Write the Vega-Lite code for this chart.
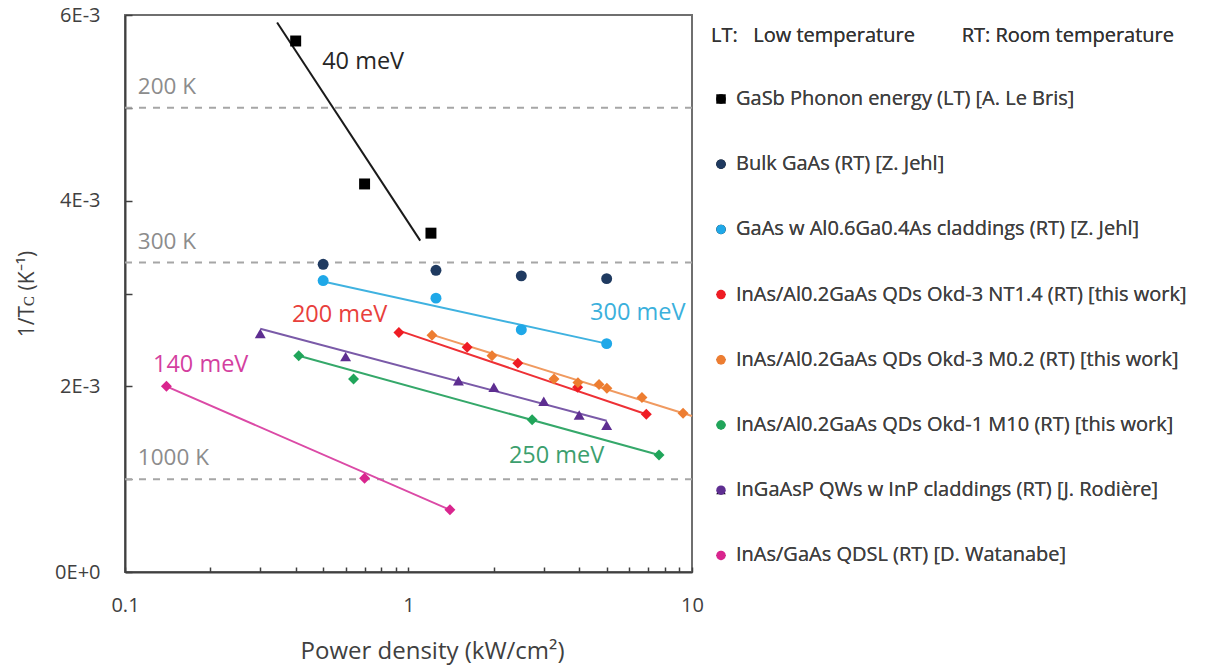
{
  "$schema": "https://vega.github.io/schema/vega-lite/v6.json",
  "width": 567,
  "height": 557,
  "autosize": {"type": "none"},
  "padding": {"left": 125, "top": 15, "right": 535, "bottom": 99},
  "background": "white",
  "config": {
    "font": "Open Sans",
    "view": {"stroke": "#6f6f6f", "strokeWidth": 2},
    "axis": {"grid": false, "domainColor": "#404040", "domainWidth": 2, "tickColor": "#404040", "tickWidth": 1.5, "labelColor": "#404040", "labelFontSize": 20, "titleColor": "#404040", "titleFontWeight": "normal", "labelOverlap": false, "labelFlush": false}
  },
  "datasets": {
    "refs": [
      {"y": 0.005, "label": "200 K"},
      {"y": 0.0033333, "label": "300 K"},
      {"y": 0.001, "label": "1000 K"}
    ],
    "notes": [
      {"text": "40 meV", "x": 0.496, "y": 0.00549},
      {"text": "200 meV", "x": 0.388, "y": 0.00277},
      {"text": "300 meV", "x": 4.37, "y": 0.00279},
      {"text": "140 meV", "x": 0.1255, "y": 0.00223},
      {"text": "250 meV", "x": 2.26, "y": 0.001245}
    ],
    "fits": [
      {"series": "GaSb Phonon energy (LT) [A. Le Bris]", "x": 0.344, "y": 0.00592},
      {"series": "GaSb Phonon energy (LT) [A. Le Bris]", "x": 1.10, "y": 0.00357},
      {"series": "GaAs w Al0.6Ga0.4As claddings (RT) [Z. Jehl]", "x": 0.5, "y": 0.00313},
      {"series": "GaAs w Al0.6Ga0.4As claddings (RT) [Z. Jehl]", "x": 5, "y": 0.00246},
      {"series": "InAs/Al0.2GaAs QDs Okd-3 NT1.4 (RT) [this work]", "x": 0.925, "y": 0.00260},
      {"series": "InAs/Al0.2GaAs QDs Okd-3 NT1.4 (RT) [this work]", "x": 6.9, "y": 0.00170},
      {"series": "InAs/Al0.2GaAs QDs Okd-3 M0.2 (RT) [this work]", "x": 1.2, "y": 0.00256},
      {"series": "InAs/Al0.2GaAs QDs Okd-3 M0.2 (RT) [this work]", "x": 10, "y": 0.00168},
      {"series": "InAs/Al0.2GaAs QDs Okd-1 M10 (RT) [this work]", "x": 0.41, "y": 0.00233},
      {"series": "InAs/Al0.2GaAs QDs Okd-1 M10 (RT) [this work]", "x": 7.65, "y": 0.00126},
      {"series": "InGaAsP QWs w InP claddings (RT) [J. Rodière]", "x": 0.3, "y": 0.00262},
      {"series": "InGaAsP QWs w InP claddings (RT) [J. Rodière]", "x": 5, "y": 0.00163},
      {"series": "InAs/GaAs QDSL (RT) [D. Watanabe]", "x": 0.14, "y": 0.00200},
      {"series": "InAs/GaAs QDSL (RT) [D. Watanabe]", "x": 1.4, "y": 0.00067}
    ],
    "pts": [
      {"series": "GaSb Phonon energy (LT) [A. Le Bris]", "x": 0.4, "y": 0.00572},
      {"series": "GaSb Phonon energy (LT) [A. Le Bris]", "x": 0.7, "y": 0.00418},
      {"series": "GaSb Phonon energy (LT) [A. Le Bris]", "x": 1.2, "y": 0.00365},
      {"series": "Bulk GaAs (RT) [Z. Jehl]", "x": 0.5, "y": 0.003315},
      {"series": "Bulk GaAs (RT) [Z. Jehl]", "x": 1.25, "y": 0.00325},
      {"series": "Bulk GaAs (RT) [Z. Jehl]", "x": 2.5, "y": 0.00319},
      {"series": "Bulk GaAs (RT) [Z. Jehl]", "x": 5, "y": 0.00316},
      {"series": "GaAs w Al0.6Ga0.4As claddings (RT) [Z. Jehl]", "x": 0.5, "y": 0.00314},
      {"series": "GaAs w Al0.6Ga0.4As claddings (RT) [Z. Jehl]", "x": 1.25, "y": 0.00295},
      {"series": "GaAs w Al0.6Ga0.4As claddings (RT) [Z. Jehl]", "x": 2.5, "y": 0.00261},
      {"series": "GaAs w Al0.6Ga0.4As claddings (RT) [Z. Jehl]", "x": 5, "y": 0.00246},
      {"series": "InAs/Al0.2GaAs QDs Okd-3 NT1.4 (RT) [this work]", "x": 0.925, "y": 0.00258},
      {"series": "InAs/Al0.2GaAs QDs Okd-3 NT1.4 (RT) [this work]", "x": 1.61, "y": 0.00242},
      {"series": "InAs/Al0.2GaAs QDs Okd-3 NT1.4 (RT) [this work]", "x": 2.43, "y": 0.00225},
      {"series": "InAs/Al0.2GaAs QDs Okd-3 NT1.4 (RT) [this work]", "x": 3.95, "y": 0.00199},
      {"series": "InAs/Al0.2GaAs QDs Okd-3 NT1.4 (RT) [this work]", "x": 6.9, "y": 0.00170},
      {"series": "InAs/Al0.2GaAs QDs Okd-3 M0.2 (RT) [this work]", "x": 1.21, "y": 0.00255},
      {"series": "InAs/Al0.2GaAs QDs Okd-3 M0.2 (RT) [this work]", "x": 1.97, "y": 0.00233},
      {"series": "InAs/Al0.2GaAs QDs Okd-3 M0.2 (RT) [this work]", "x": 3.26, "y": 0.00208},
      {"series": "InAs/Al0.2GaAs QDs Okd-3 M0.2 (RT) [this work]", "x": 3.96, "y": 0.00204},
      {"series": "InAs/Al0.2GaAs QDs Okd-3 M0.2 (RT) [this work]", "x": 4.7, "y": 0.00202},
      {"series": "InAs/Al0.2GaAs QDs Okd-3 M0.2 (RT) [this work]", "x": 5.01, "y": 0.00198},
      {"series": "InAs/Al0.2GaAs QDs Okd-3 M0.2 (RT) [this work]", "x": 6.66, "y": 0.00188},
      {"series": "InAs/Al0.2GaAs QDs Okd-3 M0.2 (RT) [this work]", "x": 9.3, "y": 0.00171},
      {"series": "InAs/Al0.2GaAs QDs Okd-1 M10 (RT) [this work]", "x": 0.41, "y": 0.00233},
      {"series": "InAs/Al0.2GaAs QDs Okd-1 M10 (RT) [this work]", "x": 0.64, "y": 0.00208},
      {"series": "InAs/Al0.2GaAs QDs Okd-1 M10 (RT) [this work]", "x": 2.73, "y": 0.00164},
      {"series": "InAs/Al0.2GaAs QDs Okd-1 M10 (RT) [this work]", "x": 7.65, "y": 0.00126},
      {"series": "InGaAsP QWs w InP claddings (RT) [J. Rodière]", "x": 0.3, "y": 0.00257},
      {"series": "InGaAsP QWs w InP claddings (RT) [J. Rodière]", "x": 0.6, "y": 0.00232},
      {"series": "InGaAsP QWs w InP claddings (RT) [J. Rodière]", "x": 1.5, "y": 0.00206},
      {"series": "InGaAsP QWs w InP claddings (RT) [J. Rodière]", "x": 2, "y": 0.00199},
      {"series": "InGaAsP QWs w InP claddings (RT) [J. Rodière]", "x": 3, "y": 0.00184},
      {"series": "InGaAsP QWs w InP claddings (RT) [J. Rodière]", "x": 4, "y": 0.00169},
      {"series": "InGaAsP QWs w InP claddings (RT) [J. Rodière]", "x": 5, "y": 0.00158},
      {"series": "InAs/GaAs QDSL (RT) [D. Watanabe]", "x": 0.14, "y": 0.00200},
      {"series": "InAs/GaAs QDSL (RT) [D. Watanabe]", "x": 0.7, "y": 0.00101},
      {"series": "InAs/GaAs QDSL (RT) [D. Watanabe]", "x": 1.4, "y": 0.00067}
    ]
  },
  "layer": [
    {
      "data": {"name": "refs"},
      "mark": {"type": "rule", "color": "#a6a6a6", "strokeWidth": 2, "strokeDash": [7, 7]},
      "encoding": {
        "y": {"field": "y", "type": "quantitative", "scale": {"domain": [0, 0.006], "nice": false, "zero": false}}
      }
    },
    {
      "data": {"name": "refs"},
      "mark": {"type": "text", "align": "left", "baseline": "middle", "dy": -21, "fontSize": 22.5, "color": "#8c8c8c"},
      "encoding": {
        "x": {"datum": 0.111, "type": "quantitative", "scale": {"type": "log", "domain": [0.1, 10], "nice": false}},
        "y": {"field": "y", "type": "quantitative", "scale": {"domain": [0, 0.006], "nice": false, "zero": false}},
        "text": {"field": "label"}
      }
    },
    {
      "data": {"name": "notes"},
      "mark": {"type": "text", "align": "left", "baseline": "middle", "fontSize": 23.5},
      "encoding": {
        "x": {"field": "x", "type": "quantitative", "scale": {"type": "log", "domain": [0.1, 10], "nice": false}},
        "y": {"field": "y", "type": "quantitative", "scale": {"domain": [0, 0.006], "nice": false, "zero": false}},
        "text": {"field": "text"},
        "color": {"field": "text", "type": "nominal", "legend": null,
          "scale": {"domain": ["40 meV", "200 meV", "300 meV", "140 meV", "250 meV"],
                    "range": ["#262626", "#e8403c", "#3bb0dc", "#d43f9f", "#3c9f6e"]}}
      }
    },
    {
      "data": {"name": "fits"},
      "mark": {"type": "line", "strokeWidth": 2},
      "encoding": {
        "x": {"field": "x", "type": "quantitative", "scale": {"type": "log", "domain": [0.1, 10], "nice": false}},
        "y": {"field": "y", "type": "quantitative", "scale": {"domain": [0, 0.006], "nice": false, "zero": false}},
        "detail": {"field": "series"},
        "color": {"field": "series", "type": "nominal", "legend": null,
          "scale": {"domain": ["GaSb Phonon energy (LT) [A. Le Bris]", "GaAs w Al0.6Ga0.4As claddings (RT) [Z. Jehl]", "InAs/Al0.2GaAs QDs Okd-3 NT1.4 (RT) [this work]", "InAs/Al0.2GaAs QDs Okd-3 M0.2 (RT) [this work]", "InAs/Al0.2GaAs QDs Okd-1 M10 (RT) [this work]", "InGaAsP QWs w InP claddings (RT) [J. Rodière]", "InAs/GaAs QDSL (RT) [D. Watanabe]"],
                    "range": ["#1a1a1a", "#3fb2e0", "#ee3035", "#f09a60", "#35a86a", "#7a5aa8", "#db4aa6"]}}
      }
    },
    {
      "data": {"name": "pts"},
      "mark": {"type": "point", "filled": true, "opacity": 1, "size": 120},
      "encoding": {
        "x": {"field": "x", "type": "quantitative",
          "scale": {"type": "log", "domain": [0.1, 10], "nice": false},
          "axis": {"values": [0.1, 0.2, 0.3, 0.4, 0.5, 0.6, 0.7, 0.8, 0.9, 1, 2, 3, 4, 5, 6, 7, 8, 9, 10],
                   "labelExpr": "datum.value == 0.1 ? '0.1' : datum.value == 1 ? '1' : datum.value == 10 ? '10' : ''",
                   "tickSize": -5, "labelPadding": 28,
                   "title": "Power density (kW/cm²)", "titleFontSize": 24, "titleX": 307, "titleY": 67}},
        "y": {"field": "y", "type": "quantitative",
          "scale": {"domain": [0, 0.006], "nice": false, "zero": false},
          "axis": {"values": [0, 0.001, 0.002, 0.003, 0.004, 0.005, 0.006],
                   "labelExpr": "datum.value == 0 ? '0E+0' : datum.value == 0.002 ? '2E-3' : datum.value == 0.004 ? '4E-3' : datum.value == 0.006 ? '6E-3' : ''",
                   "tickSize": -7, "labelPadding": 32,
                   "title": "1/Tᴄ (K⁻¹)", "titleFontSize": 21, "titlePadding": 17}},
        "color": {"field": "series", "type": "nominal",
          "scale": {"domain": ["GaSb Phonon energy (LT) [A. Le Bris]", "Bulk GaAs (RT) [Z. Jehl]", "GaAs w Al0.6Ga0.4As claddings (RT) [Z. Jehl]", "InAs/Al0.2GaAs QDs Okd-3 NT1.4 (RT) [this work]", "InAs/Al0.2GaAs QDs Okd-3 M0.2 (RT) [this work]", "InAs/Al0.2GaAs QDs Okd-1 M10 (RT) [this work]", "InGaAsP QWs w InP claddings (RT) [J. Rodière]", "InAs/GaAs QDSL (RT) [D. Watanabe]"],
                    "range": ["#000000", "#1f3a60", "#1fa8e8", "#ef1c24", "#ed7d31", "#20a55a", "#5e2e91", "#d9258e"]},
          "legend": {"orient": "none", "legendX": 586, "legendY": 11, "title": "LT:\u00a0\u00a0 Low temperature\u00a0\u00a0\u00a0\u00a0\u00a0\u00a0\u00a0\u00a0 RT: Room temperature",
                     "titleFontSize": 20, "titleFontWeight": "normal", "titleColor": "#333333", "titlePadding": 43, "titleLimit": 600,
                     "labelFontSize": 20, "labelColor": "#404040", "labelLimit": 600, "labelOffset": 5, "rowPadding": 45.2, "symbolSize": 90, "symbolStrokeWidth": 0}},
        "shape": {"field": "series", "type": "nominal",
          "scale": {"domain": ["GaSb Phonon energy (LT) [A. Le Bris]", "Bulk GaAs (RT) [Z. Jehl]", "GaAs w Al0.6Ga0.4As claddings (RT) [Z. Jehl]", "InAs/Al0.2GaAs QDs Okd-3 NT1.4 (RT) [this work]", "InAs/Al0.2GaAs QDs Okd-3 M0.2 (RT) [this work]", "InAs/Al0.2GaAs QDs Okd-1 M10 (RT) [this work]", "InGaAsP QWs w InP claddings (RT) [J. Rodière]", "InAs/GaAs QDSL (RT) [D. Watanabe]"],
                    "range": ["square", "circle", "circle", "diamond", "diamond", "diamond", "triangle-up", "diamond"]},
          "legend": {"orient": "none", "legendX": 586, "legendY": 11, "title": "LT:\u00a0\u00a0 Low temperature\u00a0\u00a0\u00a0\u00a0\u00a0\u00a0\u00a0\u00a0 RT: Room temperature",
                     "titleFontSize": 20, "titleFontWeight": "normal", "titleColor": "#333333", "titlePadding": 43, "titleLimit": 600,
                     "labelFontSize": 20, "labelColor": "#404040", "labelLimit": 600, "labelOffset": 5, "rowPadding": 45.2, "symbolSize": 90, "symbolStrokeWidth": 0}}
      }
    }
  ],
  "resolve": {"scale": {"color": "independent"}}
}
